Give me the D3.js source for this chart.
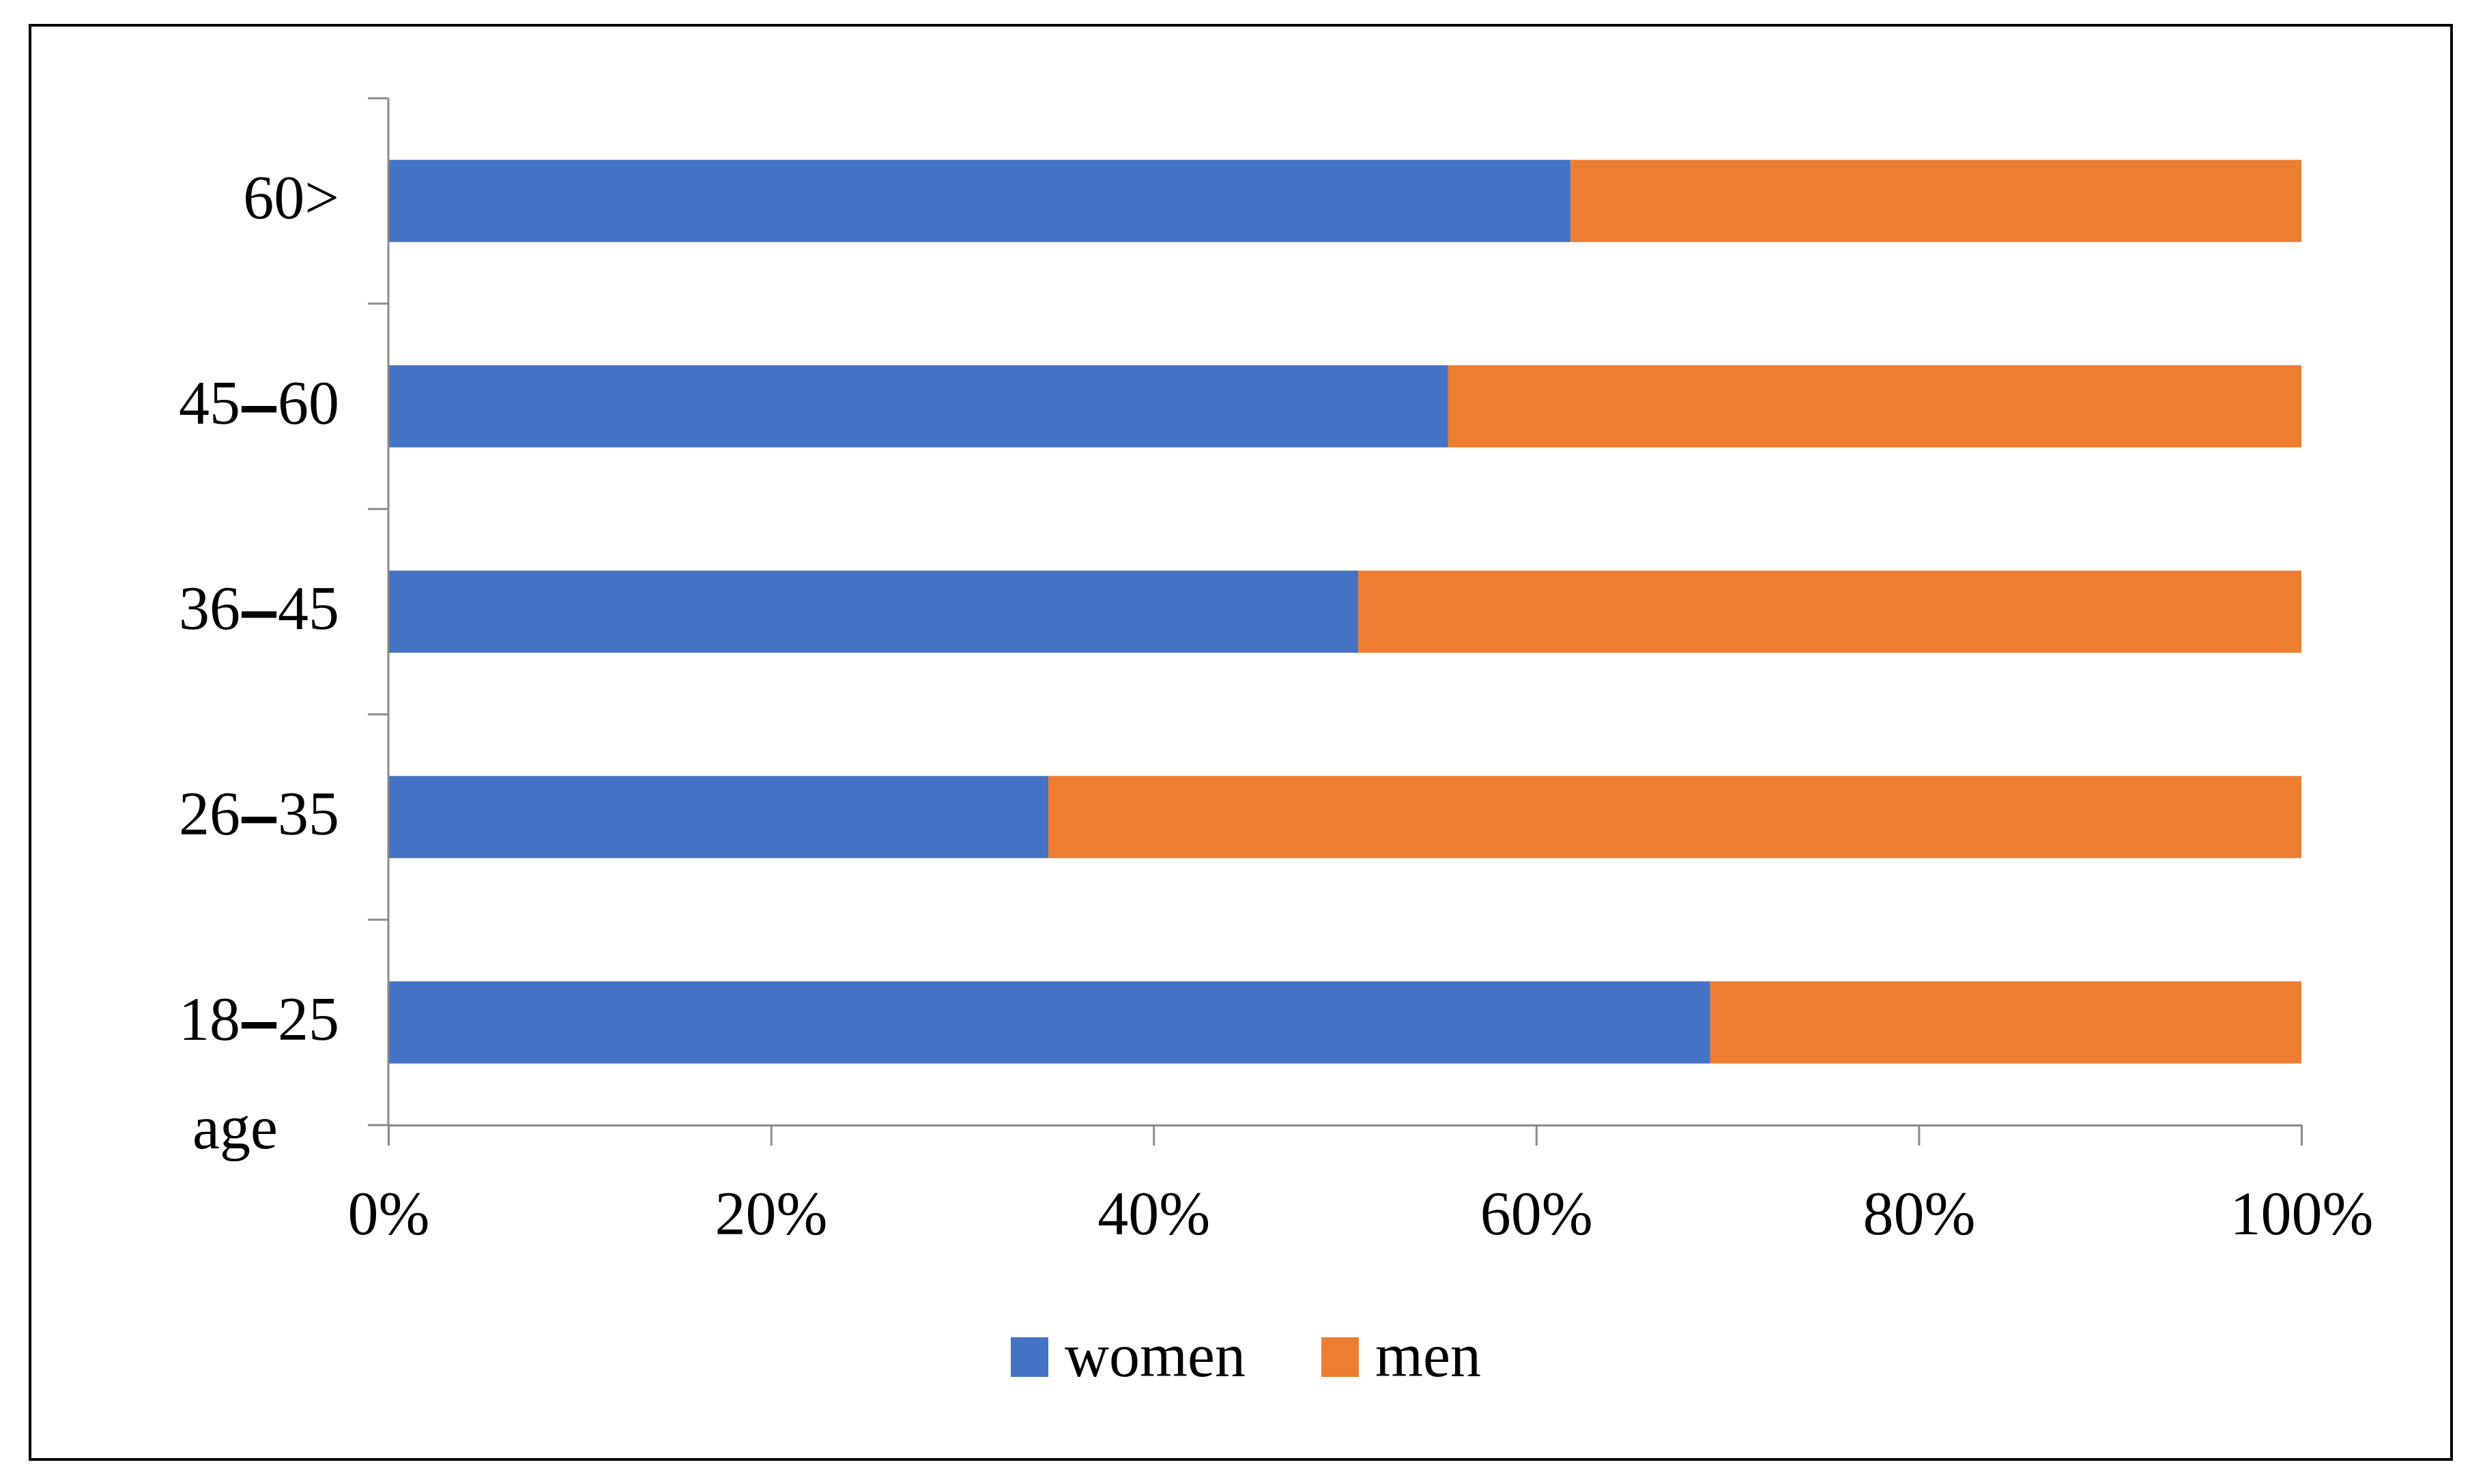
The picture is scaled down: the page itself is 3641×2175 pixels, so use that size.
<!DOCTYPE html>
<html>
<head>
<meta charset="utf-8">
<script src="https://cdn.jsdelivr.net/npm/d3@7"></script>
<style>
  body { margin: 0; background: #ffffff; }
  text { font-family: "Liberation Serif", "Times New Roman", serif; fill: #000000; }
</style>
</head>
<body>
<div id="container"></div>
<script>
const ageGroups = ["18–25", "26–35", "36–45", "45–60", "60>"];
const women = [69.1, 34.5, 50.7, 55.4, 61.8];
const men = [30.9, 65.5, 49.3, 44.6, 38.2];
const seriesNames = ["women", "men"];
const xTicks = [0, 0.2, 0.4, 0.6, 0.8, 1];
const axisTitle = "age";

const width = 3641;
const height = 2175;
const padding = {
  top: 144,
  bot: 526,
  left: 569,
  right: 269
};
const colors = {"women": "#4472C4", "men": "#ED7D31"};
const axisColor = "#898989";
const fontSize = 90;

const table = ageGroups.map((g, i) => ({group: g, women: women[i], men: men[i]}));
const stacked = d3.stack()
                  .keys(seriesNames)
                  .offset(d3.stackOffsetExpand)(table);

const svg = d3.select("#container")
              .append("svg")
              .attr("width", width)
              .attr("height", height);

svg.append("rect")
   .attr("width", width)
   .attr("height", height)
   .style("fill", "#ffffff");

// outer frame
svg.append("rect")
   .attr("x", 44)
   .attr("y", 37)
   .attr("width", 3548)
   .attr("height", 2102)
   .style("fill", "none")
   .style("stroke", "#000000")
   .style("stroke-width", 4);

const xScale = d3.scaleLinear()
                 .domain([0, 1])
                 .range([padding.left, width - padding.right]);
const yScale = d3.scaleBand()
                 .domain(ageGroups.slice().reverse())
                 .range([padding.top, height - padding.bot])
                 .paddingInner(0.6)
                 .paddingOuter(0.3);

// bars
svg.append("g")
   .selectAll("g")
   .data(stacked)
   .enter()
   .append("g")
   .style("fill", (d) => colors[d.key])
   .selectAll("rect")
   .data((d) => d)
   .enter()
   .append("rect")
   .attr("x", (d) => xScale(d[0]))
   .attr("y", (d) => yScale(d.data.group))
   .attr("width", (d) => xScale(d[1]) - xScale(d[0]))
   .attr("height", yScale.bandwidth());

// x axis
const xAxis = d3.axisBottom(xScale)
                .tickValues(xTicks)
                .tickFormat(d3.format(".0%"))
                .tickSize(30)
                .tickSizeOuter(0)
                .tickPadding(130);
const gx = svg.append("g")
              .attr("transform", "translate(0, " + (height - padding.bot) + ")")
              .call(xAxis);
gx.selectAll("text")
  .attr("dy", 0)
  .style("font-size", fontSize + "px");

// y axis: ticks sit on the band boundaries, labels in the middle of the bands
const step = yScale.step();
const boundaries = yScale.domain().map((d) => yScale(d) - step * yScale.paddingOuter());
boundaries.push(height - padding.bot);
const gy = svg.append("g");
gy.selectAll("line")
  .data(boundaries)
  .enter()
  .append("line")
  .attr("x1", padding.left - 30)
  .attr("x2", padding.left)
  .attr("y1", (d) => d)
  .attr("y2", (d) => d);
gy.append("line")
  .attr("x1", padding.left)
  .attr("x2", padding.left)
  .attr("y1", padding.top)
  .attr("y2", height - padding.bot);
gx.selectAll("line, path").style("stroke", axisColor).style("stroke-width", 3);
gy.selectAll("line").style("stroke", axisColor).style("stroke-width", 3);

const yLabels = gy.selectAll("text")
                  .data(yScale.domain())
                  .enter()
                  .append("text")
                  .attr("x", padding.left - 72)
                  .attr("y", (d) => yScale(d) + yScale.bandwidth() / 2 + 25)
                  .attr("text-anchor", "end")
                  .style("font-size", fontSize + "px");
yLabels.each(function(d) {
  const parts = d.split("–");
  const t = d3.select(this);
  t.append("tspan").text(parts[0]);
  if (parts.length > 1) {
    t.append("tspan")
     .text("–")
     .attr("dx", 5)
     .style("stroke", "#000000")
     .style("stroke-width", 5);
    t.append("tspan")
     .text(parts[1])
     .attr("dx", 5);
  }
});

svg.append("text")
   .text(axisTitle)
   .attr("x", 282)
   .attr("y", 1683)
   .style("font-size", fontSize + "px");

// legend
const legendX = [1481, 1936];
const legend = svg.append("g")
                  .selectAll("g")
                  .data(seriesNames)
                  .enter()
                  .append("g")
                  .attr("transform", (d, i) => "translate(" + legendX[i] + ", 1960)");
legend.append("rect")
      .attr("width", 55)
      .attr("height", 58)
      .style("fill", (d) => colors[d]);
legend.append("text")
      .text((d) => d)
      .attr("x", 79)
      .attr("y", 57)
      .style("font-size", fontSize + "px");
</script>
</body>
</html>
